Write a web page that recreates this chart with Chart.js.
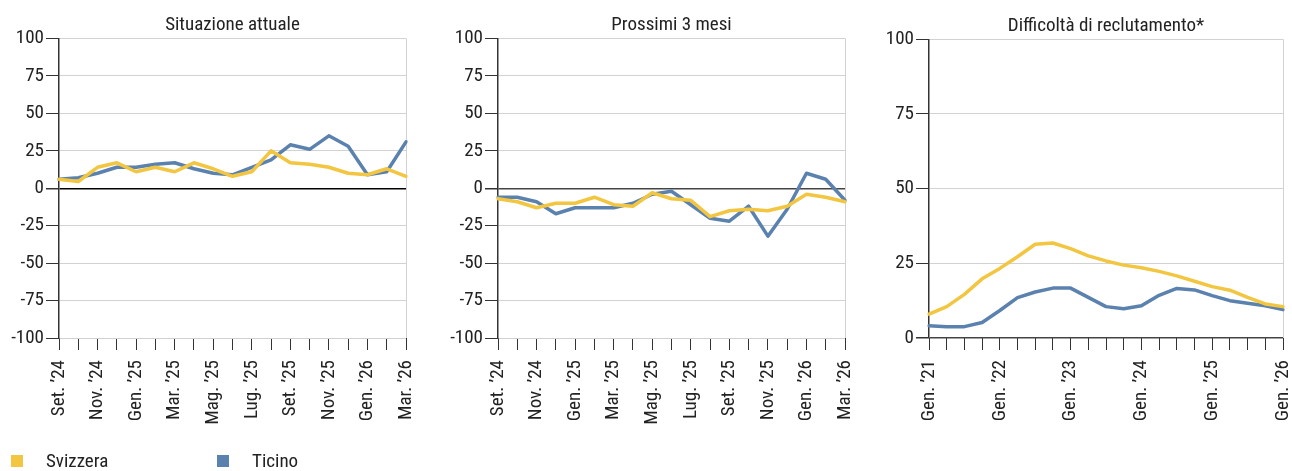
<!DOCTYPE html>
<html lang="it">
<head>
<meta charset="utf-8">
<title>Indicatori occupazione</title>
<script src="https://cdn.jsdelivr.net/npm/chart.js@4.4.1/dist/chart.umd.min.js"></script>
<style>
  html, body { margin: 0; padding: 0; background: #fff; overflow: hidden; }
  body { width: 1292px; height: 471px; position: relative;
         font-family: 'Roboto Condensed', 'Liberation Sans Narrow', sans-serif; color: #222; }
  .panel { position: absolute; top: 0; height: 471px; }
  .legend-item { position: absolute; top: 449px; font-size: 19px; line-height: 24px; }
  .legend-box { position: absolute; width: 12px; height: 12px; top: 455px; }
</style>
</head>
<body>
<div class="panel" style="left:0;width:430px"><canvas id="chart-attuale"></canvas></div>
<div class="panel" style="left:430px;width:430px"><canvas id="chart-prossimi"></canvas></div>
<div class="panel" style="left:860px;width:450px"><canvas id="chart-reclutamento"></canvas></div>

<div class="legend-box" style="left:11px;background:#F2C641"></div>
<div class="legend-item" style="left:46px">Svizzera</div>
<div class="legend-box" style="left:217px;background:#5B82AF"></div>
<div class="legend-item" style="left:252px">Ticino</div>

<script>
// Dati mensili (Set. '24 - Mar. '26)
const mesi = ['Set. ’24', 'Ott. ’24', 'Nov. ’24', 'Dic. ’24', 'Gen. ’25', 'Feb. ’25', 'Mar. ’25',
    'Apr. ’25', 'Mag. ’25', 'Giu. ’25', 'Lug. ’25', 'Ago. ’25', 'Set. ’25', 'Ott. ’25',
    'Nov. ’25', 'Dic. ’25', 'Gen. ’26', 'Feb. ’26', 'Mar. ’26'];

const attualeSvizzera = [6, 4.5, 14, 17, 11, 14, 11, 17, 13, 8, 11, 25, 17, 16, 14, 10, 9, 13, 8];
const attualeTicino   = [6, 7, 10, 14, 14, 16, 17, 13, 10, 9, 14, 19, 29, 26, 35, 28, 9, 11, 31];

const prossimiSvizzera = [-7, -9, -13, -10, -10, -6, -11, -12, -3, -7, -8, -19, -15, -14, -15, -12, -4, -6, -9];
const prossimiTicino   = [-6, -6, -9, -17, -13, -13, -13, -10, -4, -2, -11, -20, -22, -12, -32, -14, 10, 6, -8];

// Dati trimestrali (Gen. '21 - Gen. '26)
const trimestri = ['Gen. ’21', 'Apr. ’21', 'Lug. ’21', 'Ott. ’21', 'Gen. ’22', 'Apr. ’22', 'Lug. ’22', 'Ott. ’22',
    'Gen. ’23', 'Apr. ’23', 'Lug. ’23', 'Ott. ’23', 'Gen. ’24', 'Apr. ’24', 'Lug. ’24', 'Ott. ’24',
    'Gen. ’25', 'Apr. ’25', 'Lug. ’25', 'Ott. ’25', 'Gen. ’26'];

const reclutSvizzera = [8, 10.5, 14.6, 19.8, 23.3, 27.2, 31.4, 31.8, 29.9, 27.5, 25.8, 24.4, 23.5, 22.3, 20.8, 19, 17.2, 16, 13.6, 11.4, 10.5];
const reclutTicino   = [4.1, 3.8, 3.8, 5.2, 9.2, 13.5, 15.4, 16.7, 16.7, 13.6, 10.5, 9.8, 10.8, 14.3, 16.6, 16.1, 14.2, 12.5, 11.6, 10.8, 9.5];

const tickSimmetrici = [-100, -75, -50, -25, 0, 25, 50, 75, 100];
const tickPositivi = [0, 25, 50, 75, 100];

const GIALLO = '#F2C641';
const BLU = '#5B82AF';
const GRIGIO = '#d2d2d2';

Chart.defaults.font.family = "'Roboto Condensed', 'Liberation Sans Narrow', sans-serif";
Chart.defaults.font.size = 19;
Chart.defaults.color = '#222';

function makeChart(id, opts) {
    const ctx = document.getElementById(id);
    const nLabels = opts.labels.length;
    return new Chart(ctx, {
        type: 'line',
        data: {
            labels: opts.labels,
            datasets: [
                { label: 'Svizzera', data: opts.svizzera, borderColor: GIALLO, backgroundColor: GIALLO },
                { label: 'Ticino', data: opts.ticino, borderColor: BLU, backgroundColor: BLU }
            ]
        },
        options: {
            responsive: true,
            maintainAspectRatio: false,
            animation: false,
            elements: {
                point: { radius: 0, hoverRadius: 0 },
                line: { borderWidth: 3.5, tension: 0, borderJoinStyle: 'round', borderCapStyle: 'round' }
            },
            layout: { padding: { left: 0, right: opts.right, top: 0, bottom: 0 } },
            plugins: {
                legend: { display: false },
                tooltip: { enabled: false },
                title: {
                    display: true,
                    fullSize: false,
                    text: opts.title,
                    color: '#222',
                    font: { size: 19, weight: 'normal', lineHeight: 1.2 },
                    padding: { top: 14 + opts.titleExtra, bottom: 1.7 }
                }
            },
            scales: {
                x: {
                    afterFit: (scale) => {
                        scale.height = 133;
                        scale.paddingLeft = 0;
                        scale.paddingRight = 0;
                    },
                    grid: {
                        drawOnChartArea: true,
                        color: (c) => c.index === nLabels - 1 ? GRIGIO : 'rgba(0,0,0,0)',
                        tickColor: '#333',
                        tickLength: 12
                    },
                    border: { display: false },
                    ticks: {
                        autoSkip: false,
                        maxRotation: 90,
                        minRotation: 90,
                        padding: 10,
                        callback: function(value, index) {
                            return index % opts.every === 0 ? this.getLabelForValue(value) : '';
                        }
                    }
                },
                y: {
                    min: opts.min,
                    max: 100,
                    afterFit: (scale) => { scale.width = opts.yWidth; },
                    afterBuildTicks: (scale) => { scale.ticks = opts.ticks.map(v => ({ value: v })); },
                    grid: {
                        color: (c) => c.tick && c.tick.value === 0 ? opts.zeroColor : GRIGIO,
                        lineWidth: (c) => c.tick && c.tick.value === 0 ? 1.5 : 1,
                        tickColor: '#333',
                        tickLength: 13
                    },
                    border: { color: '#333', width: 1.5 },
                    ticks: { padding: 2 }
                }
            }
        }
    });
}

makeChart('chart-attuale', {
    title: 'Situazione attuale', labels: mesi, svizzera: attualeSvizzera, ticino: attualeTicino,
    min: -100, ticks: tickSimmetrici, every: 2, yWidth: 59, right: 24, zeroColor: '#000', titleExtra: 0
});

makeChart('chart-prossimi', {
    title: 'Prossimi 3 mesi', labels: mesi, svizzera: prossimiSvizzera, ticino: prossimiTicino,
    min: -100, ticks: tickSimmetrici, every: 2, yWidth: 68, right: 15, zeroColor: '#444', titleExtra: 0
});

makeChart('chart-reclutamento', {
    title: 'Difficoltà di reclutamento*', labels: trimestri, svizzera: reclutSvizzera, ticino: reclutTicino,
    min: 0, ticks: tickPositivi, every: 4, yWidth: 69, right: 27, zeroColor: '#444', titleExtra: 0.8
});
</script>
</body>
</html>
